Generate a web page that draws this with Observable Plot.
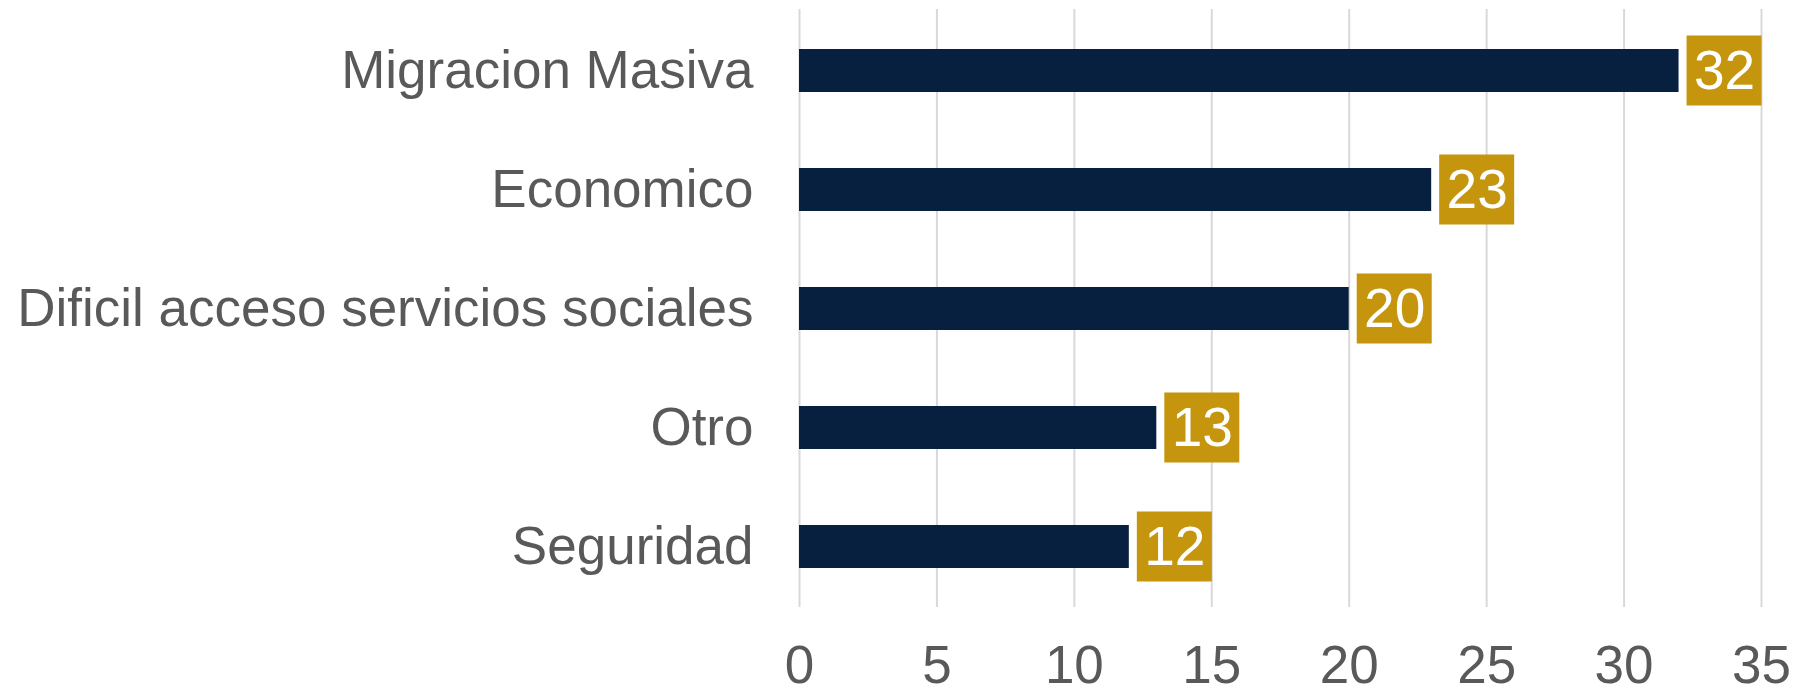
<!DOCTYPE html>
<html>
<head>
<meta charset="utf-8">
<script src="https://cdn.jsdelivr.net/npm/d3@7"></script>
<script src="https://cdn.jsdelivr.net/npm/@observablehq/plot@0.6"></script>
<style>
  html, body { margin: 0; padding: 0; background: #fff; }
  #chart svg { display: block; }
</style>
</head>
<body>
<div id="chart"></div>
<script>
const categories = ["Migracion Masiva", "Economico", "Dificil acceso servicios sociales", "Otro", "Seguridad"];
const values = [32, 23, 20, 13, 12];
const xTicks = [0, 5, 10, 15, 20, 25, 30, 35];

const data = categories.map((c, i) => ({cat: c, value: values[i]}));

const chart = Plot.plot({
  width: 1804,
  height: 694,
  marginLeft: 799,
  marginRight: 43,
  marginTop: 9,
  marginBottom: 87,
  style: {fontFamily: "'Liberation Sans', Arial, sans-serif", background: "#fff", color: "#595959"},
  x: {domain: [0, 35]},
  y: {domain: categories, paddingInner: 0.64, paddingOuter: 0.32},
  marks: [
    Plot.gridX(xTicks, {stroke: "#D9D9D9", strokeOpacity: 1, strokeWidth: 2}),
    Plot.barX(data, {x: "value", y: "cat", fill: "#08203F"}),
    Plot.barX(data, {x1: "value", x2: "value", y: "cat", fill: "#C5960D", insetLeft: 8, insetRight: -83, insetTop: -13.5, insetBottom: -13.5}),
    Plot.text(data, {x: "value", y: "cat", text: d => String(d.value), dx: 45.5, fill: "#fff", fontSize: 55, textAnchor: "middle"}),
    Plot.axisX({ticks: xTicks, tickSize: 0, tickPadding: 38, fontSize: 53, label: null, fill: "#595959"}),
    Plot.axisY({tickSize: 0, tickPadding: 46, fontSize: 53, label: null, fill: "#595959"})
  ]
});
document.getElementById("chart").appendChild(chart);
</script>
</body>
</html>
